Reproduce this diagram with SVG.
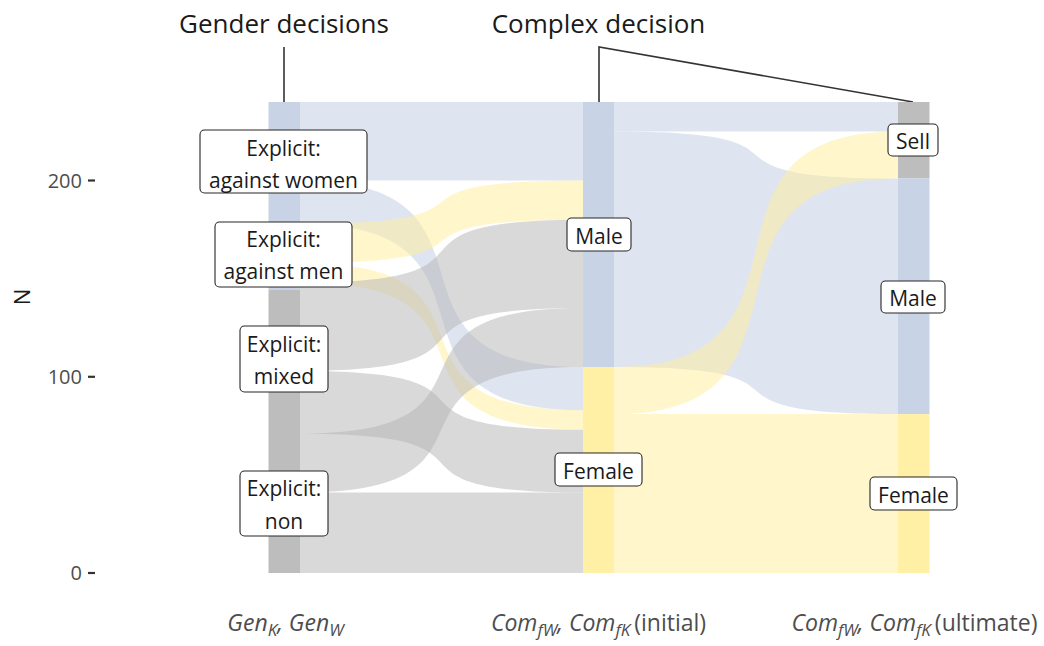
<svg xmlns="http://www.w3.org/2000/svg" width="1044" height="646" viewBox="0 0 1044 646">
<style>
text{font-family:"Open Sans","Noto Sans","Liberation Sans",sans-serif}
.fb{fill:#bfcbe2;fill-opacity:.5}
.fy{fill:#ffed99;fill-opacity:.5}
.fg{fill:#b3b3b3;fill-opacity:.5}
.sb{fill:#c8d3e6}
.sy{fill:#fff0a6}
.sg{fill:#bdbdbd}
.box{fill:#fff;stroke:#262626;stroke-width:1.1}
.lab{font-size:21px;fill:#1a1a1a;text-anchor:middle}
.title{font-size:26px;fill:#1a1a1a;text-anchor:middle}
.lead{stroke:#333;stroke-width:1.6;fill:none}
.tick{stroke:#333;stroke-width:2.2}
.ytl{font-size:20px;fill:#4d4d4d;text-anchor:end}
.xl{font-size:23px;fill:#4d4d4d;text-anchor:middle}
.it{font-style:italic}
.sub{font-style:italic;font-size:17px}
</style>
<rect width="1044" height="646" fill="#fff"/>
<g id="connectors">
<path class="fb" d="M300,102 H583 V180.5 H300 Z"/>
<path class="fb" d="M300,180.5 C526.4,180.5 356.6,367 583,367 L583,410.2 C356.6,410.2 526.4,223.7 300,223.7 Z"/>
<path class="fy" d="M300,223.7 C526.4,223.7 356.6,180.5 583,180.5 L583,219.75 C356.6,219.75 526.4,262.9 300,262.9 Z"/>
<path class="fy" d="M300,262.9 C526.4,262.9 356.6,410.2 583,410.2 L583,429.7 C356.6,429.7 526.4,282.6 300,282.6 Z"/>
<path class="fg" d="M300,282.6 C526.4,282.6 356.6,219.75 583,219.75 L583,308.1 C356.6,308.1 526.4,370.9 300,370.9 Z"/>
<path class="fg" d="M300,370.9 C526.4,370.9 356.6,429.7 583,429.7 L583,492.5 C356.6,492.5 526.4,433.7 300,433.7 Z"/>
<path class="fg" d="M300,433.7 C526.4,433.7 356.6,308.1 583,308.1 L583,367 C356.6,367 526.4,492.5 300,492.5 Z"/>
<path class="fg" d="M300,492.5 H583 V573 H300 Z"/>
<path class="fb" d="M614,102 H898 V131.4 H614 Z"/>
<path class="fb" d="M614,131.4 C841.2,131.4 670.8,178.5 898,178.5 L898,414.1 C670.8,414.1 841.2,367 614,367 Z"/>
<path class="fy" d="M614,367 C841.2,367 670.8,131.4 898,131.4 L898,178.5 C670.8,178.5 841.2,414.1 614,414.1 Z"/>
<path class="fy" d="M614,414.1 H898 V573 H614 Z"/>
<path class="lead" d="M284,47 V102"/>
<path class="lead" d="M599,102 V47 L913,102"/>
</g>
<g id="axis1">
<rect class="sb" x="268.5" y="102" width="31.5" height="188"/>
<rect class="sg" x="268.5" y="290" width="31.5" height="283"/>
</g>
<g id="axis2">
<rect class="sb" x="583" y="102" width="31" height="265"/>
<rect class="sy" x="583" y="367" width="31" height="206"/>
</g>
<g id="axis3">
<rect class="sg" x="898" y="102" width="31.5" height="76.5"/>
<rect class="sb" x="898" y="178.5" width="31.5" height="235.6"/>
<rect class="sy" x="898" y="414.1" width="31.5" height="158.9"/>
</g>
<g id="node-against-women">
<rect class="box" x="200" y="130" width="167" height="63" rx="4.5"/>
<text class="lab" x="283.5" y="155.5">Explicit:</text>
<text class="lab" x="283.5" y="187.5">against women</text>
</g>
<g id="node-against-men">
<rect class="box" x="215" y="222" width="137" height="65" rx="4.5"/>
<text class="lab" x="283.5" y="247">Explicit:</text>
<text class="lab" x="283.5" y="279">against men</text>
</g>
<g id="node-mixed">
<rect class="box" x="240" y="326" width="88" height="66" rx="4.5"/>
<text class="lab" x="284" y="351.5">Explicit:</text>
<text class="lab" x="284" y="384">mixed</text>
</g>
<g id="node-non">
<rect class="box" x="240" y="471" width="88" height="65" rx="4.5"/>
<text class="lab" x="284" y="495.5">Explicit:</text>
<text class="lab" x="284" y="529">non</text>
</g>
<g id="node-male-initial">
<rect class="box" x="567" y="218" width="64" height="33" rx="4.5"/>
<text class="lab" x="599" y="243.5">Male</text>
</g>
<g id="node-female-initial">
<rect class="box" x="555" y="453" width="87" height="33" rx="4.5"/>
<text class="lab" x="598.5" y="478.5">Female</text>
</g>
<g id="node-sell">
<rect class="box" x="888" y="124" width="50" height="32" rx="4.5"/>
<text class="lab" x="913" y="149">Sell</text>
</g>
<g id="node-male-ultimate">
<rect class="box" x="881" y="281" width="64" height="32" rx="4.5"/>
<text class="lab" x="913" y="305.5">Male</text>
</g>
<g id="node-female-ultimate">
<rect class="box" x="870" y="477" width="87" height="33" rx="4.5"/>
<text class="lab" x="913.5" y="502.5">Female</text>
</g>
<g id="titles">
<text class="title" x="284" y="33">Gender decisions</text>
<text class="title" x="598.5" y="33">Complex decision</text>
</g>
<g id="y-axis">
<line class="tick" x1="88" y1="180.5" x2="95" y2="180.5"/>
<line class="tick" x1="88" y1="376.8" x2="95" y2="376.8"/>
<line class="tick" x1="88" y1="573" x2="95" y2="573"/>
<text class="ytl" x="82" y="187.5">200</text>
<text class="ytl" x="82" y="383.8">100</text>
<text class="ytl" x="82" y="580">0</text>
<text x="0" y="0" font-size="22" fill="#1a1a1a" text-anchor="middle" transform="translate(30,297) rotate(-90)">N</text>
</g>
<g id="x-axis">
<text class="xl" x="285.5" y="631"><tspan class="it">Gen</tspan><tspan class="sub" dy="5">K</tspan><tspan class="it" dy="-5">, Gen</tspan><tspan class="sub" dy="5">W</tspan></text>
<text class="xl" x="598.5" y="631"><tspan class="it">Com</tspan><tspan class="sub" dy="5">fW</tspan><tspan class="it" dy="-5">, Com</tspan><tspan class="sub" dy="5">fK</tspan><tspan dx="4" dy="-5">(initial)</tspan></text>
<text class="xl" x="914.5" y="631"><tspan class="it">Com</tspan><tspan class="sub" dy="5">fW</tspan><tspan class="it" dy="-5">, Com</tspan><tspan class="sub" dy="5">fK</tspan><tspan dx="4" dy="-5">(ultimate)</tspan></text>
</g>
</svg>
